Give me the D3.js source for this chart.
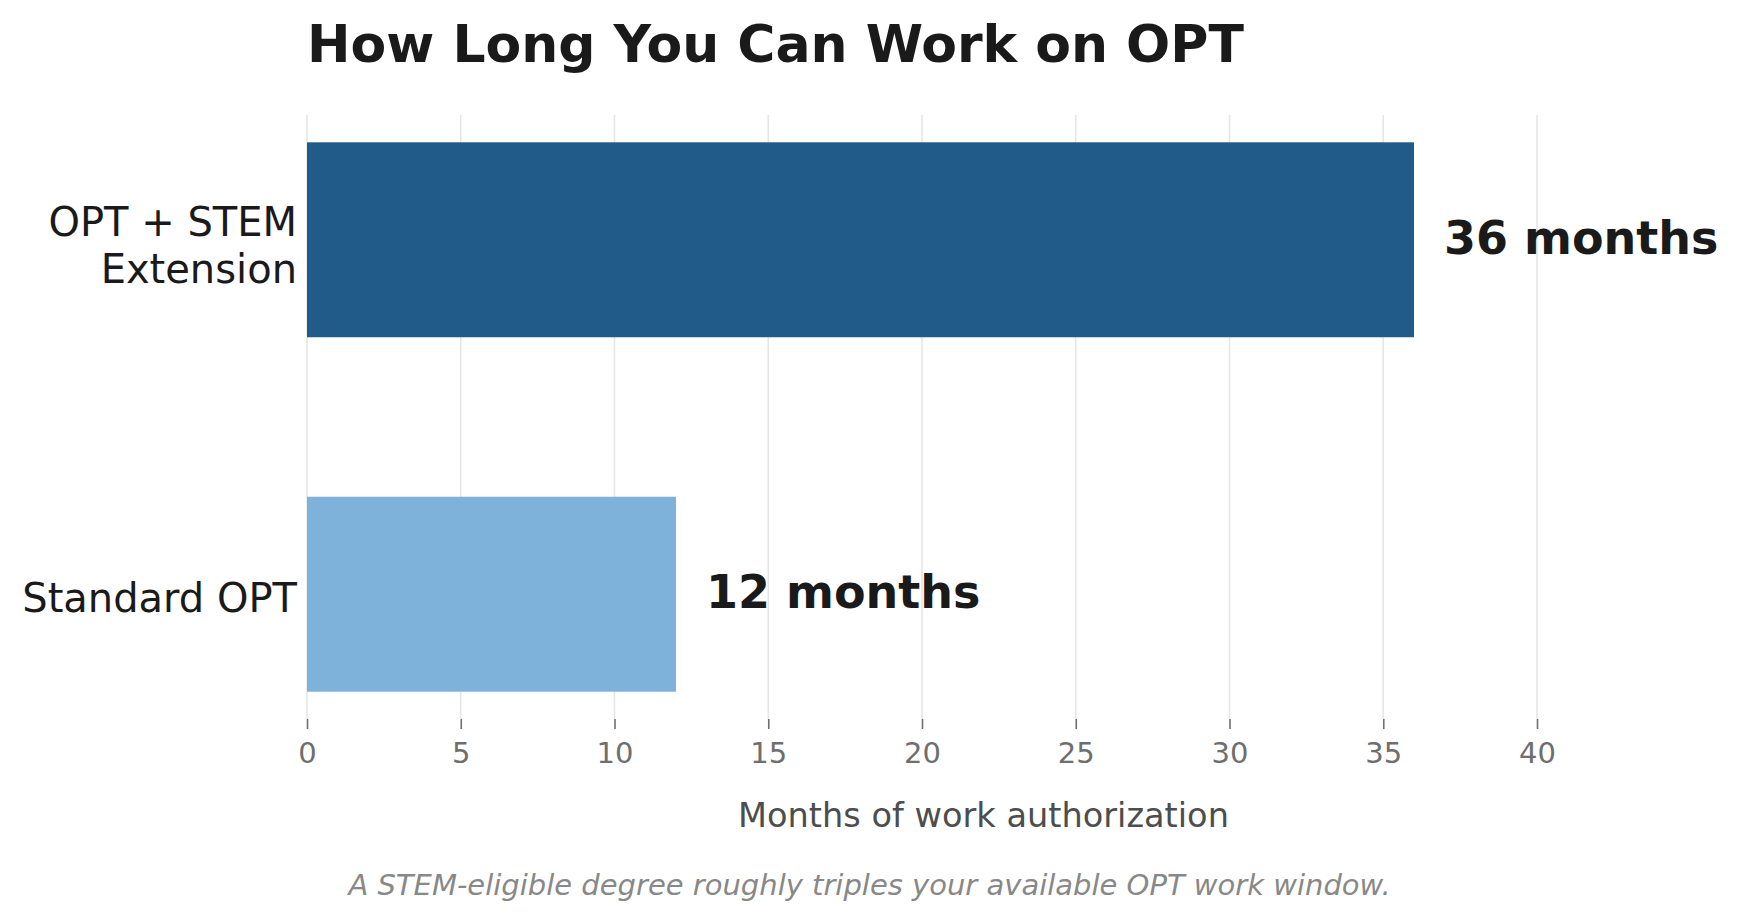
<!DOCTYPE html>
<html>
<head>
<meta charset="utf-8">
<script src="https://cdn.jsdelivr.net/npm/d3@7"></script>
<style>
  html, body { margin: 0; padding: 0; background: #ffffff; }
  svg { display: block; font-family: "DejaVu Sans", sans-serif; }
</style>
</head>
<body>
<svg id="chart" width="1739" height="922"></svg>
<script>
// ---- data ----
const categories = ["OPT + STEM Extension", "Standard OPT"];
const categoryLines = [["OPT + STEM", "Extension"], ["Standard OPT"]];
const months = [36, 12];
const valueLabels = ["36 months", "12 months"];
const barColors = ["#215b89", "#7fb2da"];
const xTicks = [0, 5, 10, 15, 20, 25, 30, 35, 40];
const titleText = "How Long You Can Work on OPT";
const xLabelText = "Months of work authorization";
const noteText = "A STEM-eligible degree roughly triples your available OPT work window.";

// ---- layout ----
const W = 1739, H = 922;
const plot = { left: 307, right: 1660, top: 115, bottom: 719 };

const svg = d3.select("#chart");

const x = d3.scaleLinear().domain([0, 44]).range([plot.left, plot.right]);
const y = d3.scaleBand().domain(categories).range([plot.top, plot.bottom])
  .paddingInner(0.45).paddingOuter(0.077);

// gridlines
svg.append("g").selectAll("line").data(xTicks).join("line")
  .attr("x1", d => x(d)).attr("x2", d => x(d))
  .attr("y1", plot.top).attr("y2", plot.bottom)
  .attr("stroke", "#e6e6e6").attr("stroke-width", 1.6);

// bars
svg.append("g").selectAll("rect").data(categories).join("rect")
  .attr("x", x(0))
  .attr("y", d => y(d))
  .attr("width", (d, i) => x(months[i]) - x(0))
  .attr("height", y.bandwidth())
  .attr("fill", (d, i) => barColors[i]);

// value labels
svg.append("g").selectAll("text").data(categories).join("text")
  .attr("x", (d, i) => x(months[i]) + 30)
  .attr("y", d => y(d) + y.bandwidth() / 2 - 2)
  .attr("dominant-baseline", "central")
  .attr("font-size", 46).attr("font-weight", "bold")
  .attr("fill", "#1a1a1a")
  .text((d, i) => valueLabels[i]);

// x axis
const xAxis = d3.axisBottom(x).tickValues(xTicks).tickSize(10).tickPadding(13)
  .tickFormat(d3.format("d"));
const gx = svg.append("g").attr("transform", `translate(0,${plot.bottom})`).call(xAxis);
gx.select(".domain").remove();
gx.selectAll(".tick line").attr("stroke", "#6e6e6e").attr("stroke-width", 1.6);
gx.selectAll(".tick text").attr("fill", "#6e6e6e").attr("font-size", 29)
  .attr("font-family", "DejaVu Sans");

// y labels
const yl = svg.append("g").selectAll("text").data(categories).join("text")
  .attr("text-anchor", "end")
  .attr("font-size", 40).attr("fill", "#1a1a1a")
  .attr("x", plot.left - 10)
  .attr("y", (d, i) => {
    const c = y(d) + y.bandwidth() / 2;
    const n = categoryLines[i].length;
    return c + 14.5 - (n - 1) * 47 / 2 + 3 + (n - 1) * 2.5;
  });
yl.each(function(d, i) {
  const t = d3.select(this);
  categoryLines[i].forEach((line, j) => {
    t.append("tspan").attr("x", plot.left - 10).attr("dy", j === 0 ? 0 : 47).text(line);
  });
});

// title
svg.append("text").attr("x", plot.left).attr("y", 62)
  .attr("font-size", 52).attr("font-weight", "bold").attr("fill", "#1a1a1a")
  .text(titleText);

// x label
svg.append("text").attr("x", (plot.left + plot.right) / 2).attr("y", 827)
  .attr("text-anchor", "middle").attr("font-size", 33.6).attr("fill", "#4d4d4d")
  .text(xLabelText);

// note
svg.append("text").attr("x", W / 2).attr("y", 895)
  .attr("text-anchor", "middle").attr("font-size", 29).attr("font-style", "italic")
  .attr("fill", "#888888")
  .text(noteText);
</script>
</body>
</html>
